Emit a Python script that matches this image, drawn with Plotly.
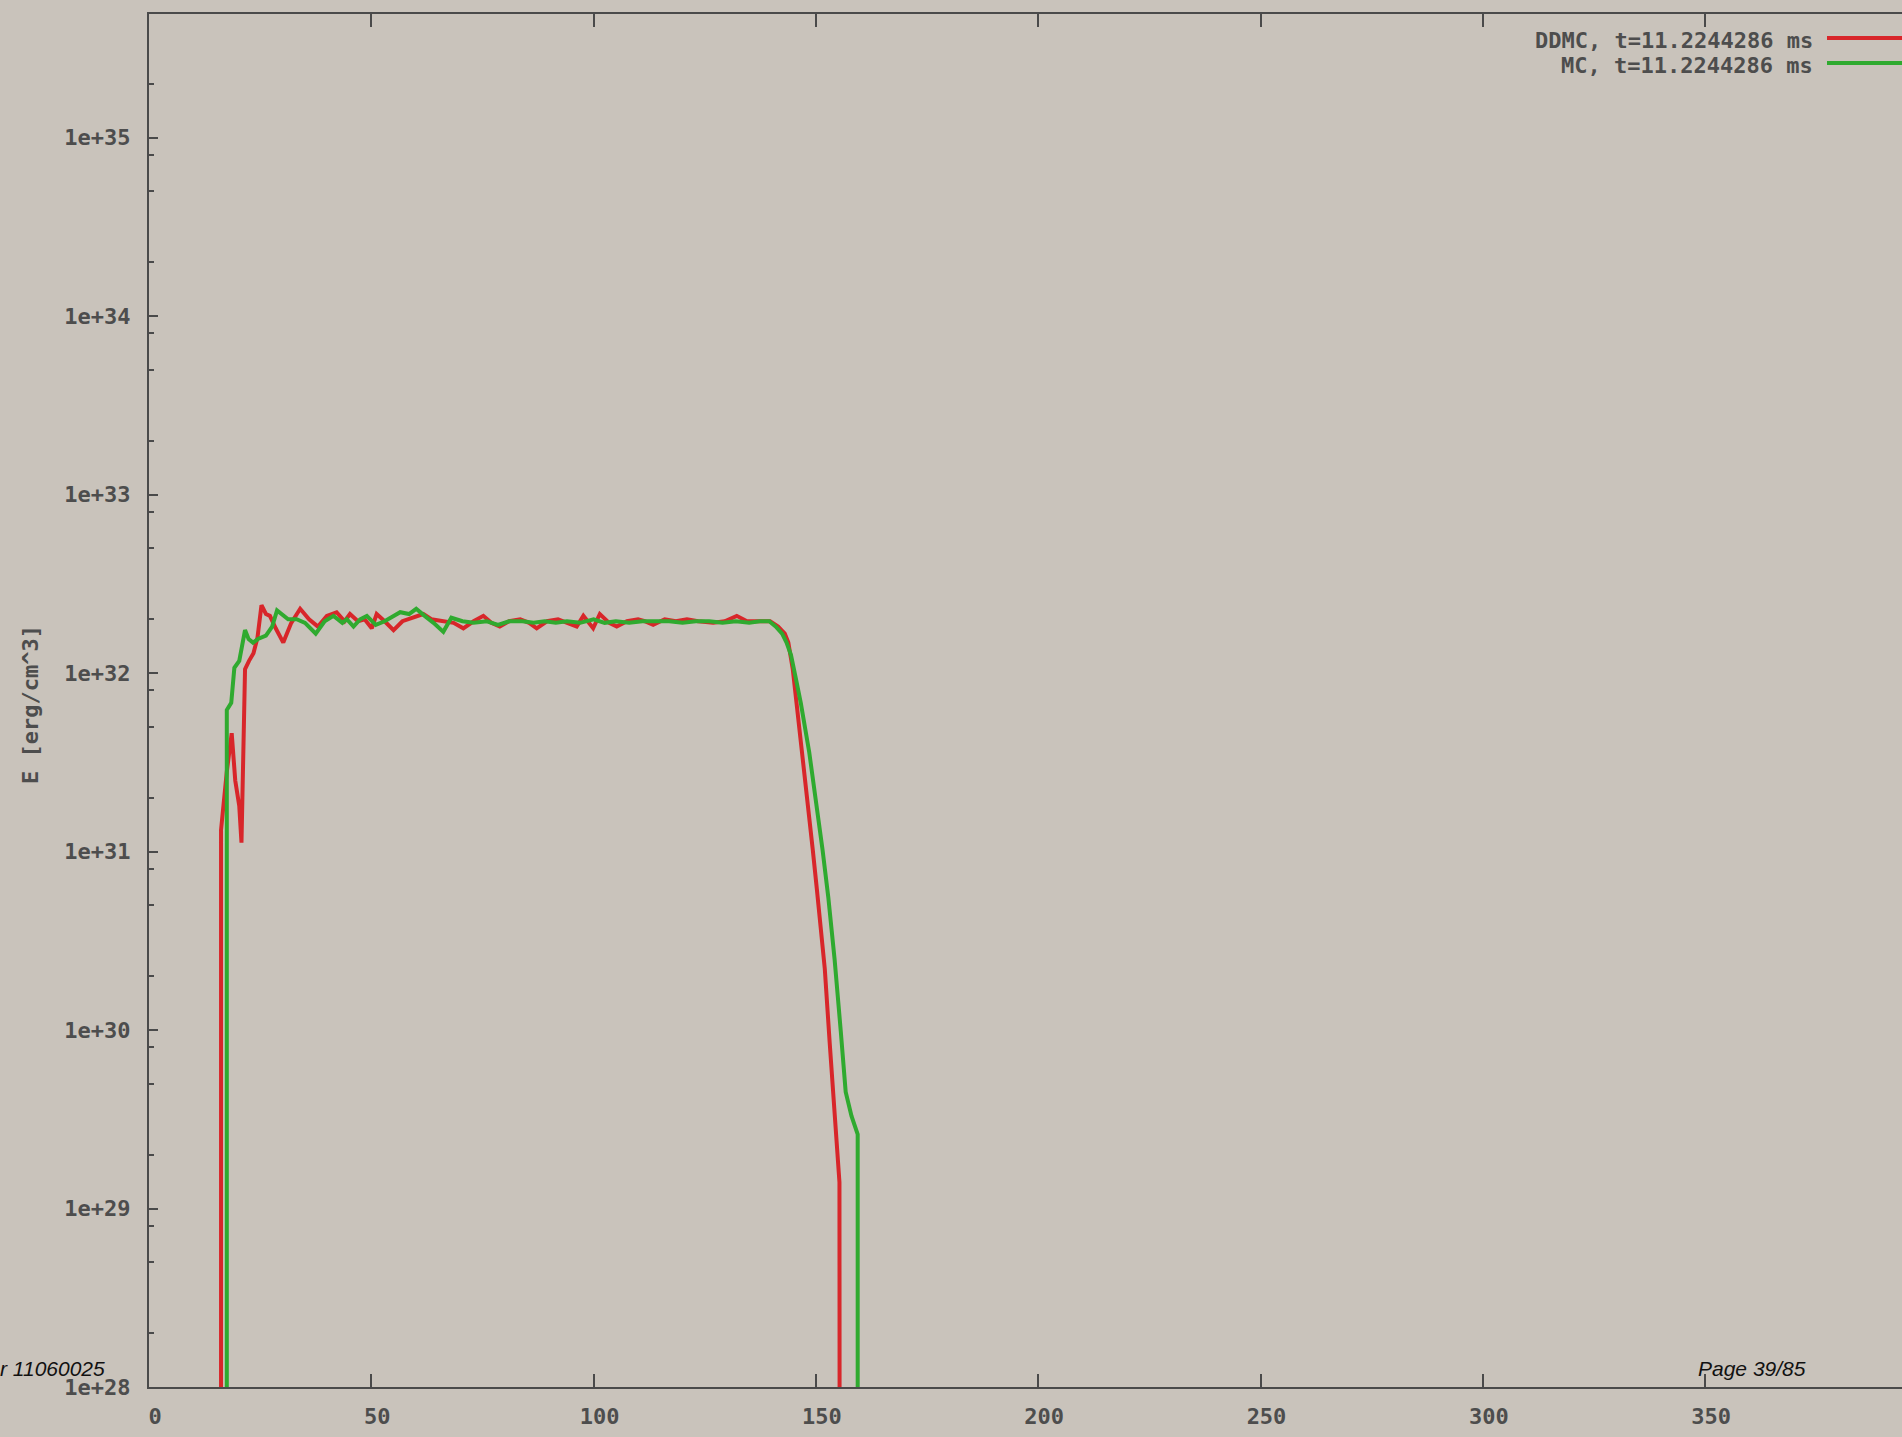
import plotly.graph_objects as go

# ---------------- data ----------------
ddmc_x = [16.2, 16.2, 17.5, 18.6, 19.4, 20.3, 20.8, 21.2, 21.6, 22.5, 23.5, 24.4, 25.3, 26.3, 27.2,
          28.5, 30.2, 32.0, 34.0, 36.0, 38.0, 40.0, 42.2, 44.0, 45.2, 47.0, 48.5, 50.1, 51.2, 53.0,
          55.0, 57.0, 59.0, 61.7, 63.5, 66.0, 68.5, 70.7, 73.0, 75.2, 77.0, 78.9, 81.0, 83.5, 85.5,
          87.2, 89.5, 92.0, 94.0, 96.2, 97.7, 99.9, 101.4, 103.5, 105.2, 107.5, 110.0, 111.5, 113.4,
          116.0, 118.5, 121.0, 123.5, 126.9, 129.5, 132.2, 134.5, 137.0, 139.7, 141.5, 143.0, 143.8,
          144.8, 145.7, 146.6, 147.5, 148.4, 149.3, 150.2, 151.1, 152.0, 153.1, 154.2, 155.3, 155.4]
ddmc_e = [1e25, 1.32e31, 2.8e31, 4.6e31, 2.5e31, 1.8e31, 1.12e31, 3.2e31, 1.05e32, 1.17e32, 1.29e32,
          1.58e32, 2.40e32, 2.14e32, 2.09e32, 1.78e32, 1.48e32, 1.91e32, 2.29e32, 2.00e32, 1.82e32,
          2.09e32, 2.19e32, 1.95e32, 2.14e32, 1.95e32, 2.00e32, 1.78e32, 2.14e32, 1.95e32, 1.74e32,
          1.95e32, 2.04e32, 2.14e32, 2.00e32, 1.95e32, 1.91e32, 1.78e32, 1.95e32, 2.09e32, 1.91e32,
          1.82e32, 1.95e32, 2.00e32, 1.91e32, 1.78e32, 1.95e32, 2.00e32, 1.91e32, 1.82e32, 2.09e32,
          1.78e32, 2.14e32, 1.91e32, 1.82e32, 1.95e32, 2.00e32, 1.95e32, 1.86e32, 2.00e32, 1.95e32,
          2.00e32, 1.95e32, 1.91e32, 1.95e32, 2.09e32, 1.95e32, 1.95e32, 1.95e32, 1.82e32, 1.66e32,
          1.48e32, 1.05e32, 6.6e31, 4.2e31, 2.8e31, 1.66e31, 1.02e31, 6.2e30, 3.7e30, 2.2e30, 8.5e29,
          3.3e29, 1.4e29, 1e25]

mc_x = [17.5, 17.5, 18.5, 19.2, 20.3, 21.6, 22.4, 23.4, 24.5, 26.3, 27.7, 28.8, 31.3, 33.2, 35.1,
        37.5, 39.5, 41.5, 43.5, 44.5, 46.0, 47.5, 49.0, 51.0, 53.0, 55.0, 56.5, 58.5, 60.1, 62.0,
        64.0, 66.2, 68.0, 70.5, 73.0, 76.0, 78.5, 81.0, 84.0, 86.5, 89.0, 91.5, 94.0, 97.0, 100.0,
        102.5, 105.0, 108.0, 111.0, 114.0, 117.0, 120.0, 123.0, 126.0, 129.0, 132.0, 135.0, 137.4,
        139.5, 141.0, 142.4, 143.4, 144.4, 145.5, 146.6, 148.5, 150.0, 151.5, 152.8, 154.2, 155.6,
        156.7, 158.0, 159.4, 159.4]
mc_e = [1e25, 6.2e31, 6.8e31, 1.07e32, 1.17e32, 1.74e32, 1.55e32, 1.48e32, 1.55e32, 1.62e32, 1.82e32,
        2.24e32, 2.00e32, 2.00e32, 1.91e32, 1.66e32, 1.95e32, 2.09e32, 1.91e32, 2.00e32, 1.82e32,
        2.00e32, 2.09e32, 1.86e32, 1.95e32, 2.09e32, 2.19e32, 2.14e32, 2.29e32, 2.09e32, 1.91e32,
        1.70e32, 2.04e32, 1.95e32, 1.91e32, 1.95e32, 1.86e32, 1.95e32, 1.95e32, 1.91e32, 1.95e32,
        1.91e32, 1.95e32, 1.91e32, 2.00e32, 1.91e32, 1.95e32, 1.91e32, 1.95e32, 1.95e32, 1.95e32,
        1.91e32, 1.95e32, 1.95e32, 1.91e32, 1.95e32, 1.91e32, 1.95e32, 1.95e32, 1.82e32, 1.66e32,
        1.48e32, 1.26e32, 9.3e31, 6.8e31, 3.6e31, 1.95e31, 1.02e31, 5.5e30, 2.5e30, 9.8e29,
        4.5e29, 3.3e29, 2.6e29, 1e25]

x_ticks = [0, 50, 100, 150, 200, 250, 300, 350]
y_tick_vals = [1e28, 1e29, 1e30, 1e31, 1e32, 1e33, 1e34, 1e35]
y_tick_text = ["1e+28", "1e+29", "1e+30", "1e+31", "1e+32", "1e+33", "1e+34", "1e+35"]
y_minor_vals = [m * 10.0 ** p for p in range(28, 36) for m in (2, 5, 8)]

series_names = ["DDMC, t=11.2244286 ms", "MC, t=11.2244286 ms"]
series_colors = ["#d8262a", "#2faa2f"]

# ---------------- layout constants ----------------
W, H = 1902, 1437
L, R, T, B = 149, 0, 14, 50
PW, PH = W - L - R, H - T - B
BG = "#c9c3bb"
AX = "#4a4a4a"
TXT = "#4d4d4d"
MONO = "DejaVu Sans Mono"
FS = 22


def px(xp):
    return (xp - L) / PW


def py(yp):
    return (H - B - yp) / PH


fig = go.Figure()
fig.add_trace(go.Scatter(x=ddmc_x, y=ddmc_e, mode="lines", name=series_names[0],
                         line=dict(color=series_colors[0], width=4), showlegend=False))
fig.add_trace(go.Scatter(x=mc_x, y=mc_e, mode="lines", name=series_names[1],
                         line=dict(color=series_colors[1], width=4), showlegend=False))

fig.update_layout(
    width=W, height=H,
    margin=dict(l=L, r=R, t=T, b=B, pad=0),
    paper_bgcolor=BG, plot_bgcolor=BG,
    font=dict(family=MONO, size=FS, color=TXT),
    showlegend=False,
)

fig.update_xaxes(
    range=[0, PW / 4.446], tickmode="array", tickvals=x_ticks,
    ticktext=["<b>%d</b>" % v for v in x_ticks],
    showgrid=False, zeroline=False, showline=True, linecolor=AX, linewidth=2,
    mirror="ticks", ticks="inside", ticklen=13, tickwidth=2, tickcolor=AX,
    tickfont=dict(family=MONO, size=FS, color=TXT),
    ticklabelstandoff=9, ticklabelshift=6,
)
fig.update_yaxes(
    type="log", range=[28, 28 + PH / 178.5],
    tickmode="array", tickvals=y_tick_vals, ticktext=["<b>%s</b>" % t for t in y_tick_text],
    showgrid=False, zeroline=False, showline=True, linecolor=AX, linewidth=2,
    ticks="inside", ticklen=9, tickwidth=2, tickcolor=AX,
    tickfont=dict(family=MONO, size=FS, color=TXT),
    ticklabelstandoff=12,
    minor=dict(tickmode="array", tickvals=y_minor_vals, ticks="inside", ticklen=5,
               tickwidth=2, tickcolor=AX, showgrid=False),
)

# y-axis title
fig.add_annotation(text="<b>E [erg/cm^3]</b>", xref="paper", yref="paper", x=px(30), y=py(705),
                   textangle=-90, showarrow=False, xanchor="center", yanchor="middle",
                   font=dict(family=MONO, size=FS, color=TXT))

# key (gnuplot style: text right-aligned, sample to the right)
for i, (name, col) in enumerate(zip(series_names, series_colors)):
    yline = 38 + 25 * i
    fig.add_annotation(text="<b>%s</b>" % name, xref="paper", yref="paper", x=px(1815),
                       y=py(yline + 2), showarrow=False, xanchor="right", yanchor="middle",
                       font=dict(family=MONO, size=FS, color=TXT))
    fig.add_shape(type="line", xref="paper", yref="paper", x0=px(1827), x1=1.0,
                  y0=py(yline), y1=py(yline), line=dict(color=col, width=4))

# page footer texts
fig.add_annotation(text="<i>r 11060025</i>", xref="paper", yref="paper", x=px(-2), y=py(1368),
                   showarrow=False, xanchor="left", yanchor="middle",
                   font=dict(family="Liberation Sans", size=21, color="#111111"))
fig.add_annotation(text="<i>Page 39/85</i>", xref="paper", yref="paper", x=px(1808), y=py(1368),
                   showarrow=False, xanchor="right", yanchor="middle",
                   font=dict(family="Liberation Sans", size=21, color="#111111"))

fig.write_html(
    "out.html",
    config={"displayModeBar": False},
    post_script="document.body.style.margin='0';document.body.style.overflow='hidden';"
                "document.body.style.background='%s';" % BG,
)
